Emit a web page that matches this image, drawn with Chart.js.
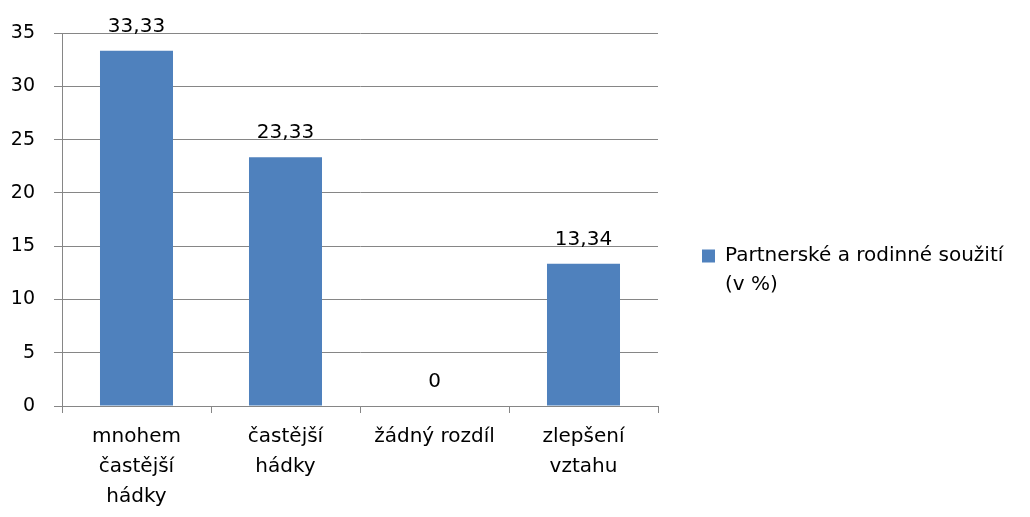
<!DOCTYPE html>
<html>
<head>
<meta charset="utf-8">
<script src="https://cdn.jsdelivr.net/npm/chart.js@4"></script>
<style>
  html, body { margin: 0; padding: 0; background: #fff; }
  #wrap { width: 1030px; height: 517px; }
</style>
</head>
<body>
<div id="wrap"><canvas id="myChart" width="1030" height="517"></canvas></div>
<script>
const categories = [
  ['mnohem', 'častější', 'hádky'],
  ['častější', 'hádky'],
  ['žádný rozdíl'],
  ['zlepšení', 'vztahu']
];
const values = [33.33, 23.33, 0, 13.34];
const seriesName = ['Partnerské a rodinné soužití', '(v %)'];
const yTicks = [0, 5, 10, 15, 20, 25, 30, 35];

const FONT = '"DejaVu Sans", sans-serif';
const gridColor = '#868686';
const barColor = '#4F81BD';
const legendWidth = 372;

function formatValue(v) {
  return v === 0 ? '0' : v.toFixed(2).replace('.', ',');
}

// value labels above each bar
const valueLabels = {
  id: 'valueLabels',
  afterDatasetsDraw(chart) {
    const ctx = chart.ctx;
    const meta = chart.getDatasetMeta(0);
    ctx.save();
    ctx.font = '20px ' + FONT;
    ctx.fillStyle = '#000';
    ctx.textAlign = 'center';
    ctx.textBaseline = 'alphabetic';
    meta.data.forEach((bar, i) => {
      ctx.fillText(formatValue(values[i]), bar.x, bar.y - 19);
    });
    ctx.restore();
  }
};

// legend is capped at a quarter of the width by default, give it more room
const wideLegend = {
  id: 'wideLegend',
  beforeLayout(chart) {
    const lg = chart.legend;
    if (lg && !lg._wide) {
      const fit = lg.fit.bind(lg);
      lg.fit = function () {
        fit();
        this.width = legendWidth;
      };
      lg._wide = true;
    }
  }
};

const ctx = document.getElementById('myChart');
new Chart(ctx, {
  type: 'bar',
  data: {
    labels: categories,
    datasets: [{
      label: seriesName,
      data: values,
      backgroundColor: barColor,
      categoryPercentage: 0.49,
      barPercentage: 1
    }]
  },
  options: {
    responsive: false,
    animation: false,
    layout: { padding: { top: 33, left: 10, right: 0, bottom: 0 } },
    plugins: {
      tooltip: { enabled: false },
      legend: {
        position: 'right',
        align: 'center',
        labels: {
          boxWidth: 13,
          boxHeight: 13,
          color: '#000',
          font: { family: FONT, size: 20, lineHeight: 1.45 },
          padding: 44,
          generateLabels(chart) {
            return [{
              text: seriesName,
              fillStyle: barColor,
              strokeStyle: barColor,
              lineWidth: 0,
              datasetIndex: 0
            }];
          }
        }
      }
    },
    scales: {
      x: {
        offset: true,
        afterFit(axis) { axis.height = 111; },
        grid: {
          offset: true,
          drawOnChartArea: false,
          drawTicks: true,
          tickLength: 7,
          color: gridColor
        },
        border: { color: gridColor, width: 1 },
        ticks: {
          color: '#000',
          font: { family: FONT, size: 20, lineHeight: 1.5 },
          maxRotation: 0,
          autoSkip: false,
          padding: 9
        }
      },
      y: {
        min: 0,
        max: 35,
        afterFit(axis) { axis.width = 52; },
        afterBuildTicks(axis) {
          axis.ticks = yTicks.map(v => ({ value: v }));
        },
        grid: {
          color: gridColor,
          tickLength: 8
        },
        border: { color: gridColor, width: 1 },
        ticks: {
          color: '#000',
          font: { family: FONT, size: 19 },
          padding: 19
        }
      }
    }
  },
  plugins: [valueLabels, wideLegend]
});
</script>
</body>
</html>
